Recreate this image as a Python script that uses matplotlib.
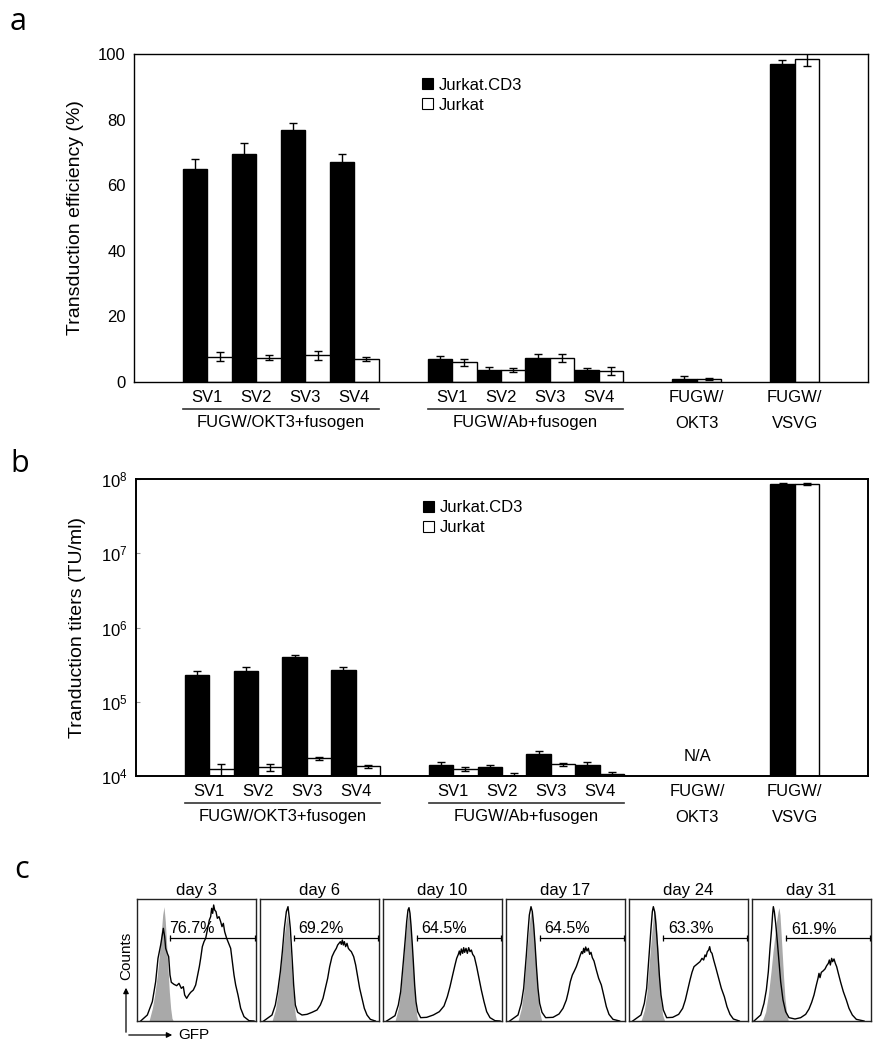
import matplotlib
matplotlib.use('Agg')
import matplotlib.pyplot as plt
import numpy as np
from matplotlib.patches import Patch, FancyArrowPatch
from matplotlib.ticker import NullLocator, FixedLocator

plt.rcParams['font.family'] = ['Liberation Sans', 'DejaVu Sans']
plt.rcParams['mathtext.fontset'] = 'custom'
plt.rcParams['mathtext.rm'] = 'Liberation Sans'
plt.rcParams['mathtext.it'] = 'Liberation Sans:italic'

# ---------------- data ----------------
sv_labels = ['SV1', 'SV2', 'SV3', 'SV4']
group_names = ['FUGW/OKT3+fusogen', 'FUGW/Ab+fusogen']
ctrl_top = ['FUGW/', 'FUGW/']
ctrl_bottom = ['OKT3', 'VSVG']
series_names = ['Jurkat.CD3', 'Jurkat']

# panel a: transduction efficiency (%)
eff_okt3_cd3 = [65.0, 69.6, 76.9, 67.2]
eff_okt3_cd3_err = [3.0, 3.3, 2.2, 2.4]
eff_okt3_jur = [7.7, 7.4, 8.1, 6.9]
eff_okt3_jur_err = [1.4, 0.8, 1.5, 0.6]
eff_ab_cd3 = [6.9, 3.6, 7.4, 3.6]
eff_ab_cd3_err = [1.0, 0.9, 1.0, 0.7]
eff_ab_jur = [6.0, 3.6, 7.2, 3.4]
eff_ab_jur_err = [1.0, 0.7, 1.2, 1.2]
eff_ctrl_cd3 = [0.9, 96.8]
eff_ctrl_cd3_err = [0.8, 1.5]
eff_ctrl_jur = [0.9, 98.4]
eff_ctrl_jur_err = [0.3, 2.0]

# panel b: transduction titers (TU/ml)
tit_okt3_cd3 = [2.3e5, 2.6e5, 4.0e5, 2.7e5]
tit_okt3_cd3_err = [0.3e5, 0.3e5, 0.2e5, 0.2e5]
tit_okt3_jur = [1.24e4, 1.32e4, 1.73e4, 1.35e4]
tit_okt3_jur_err = [0.23e4, 0.14e4, 0.07e4, 0.06e4]
tit_ab_cd3 = [1.42e4, 1.34e4, 2.0e4, 1.41e4]
tit_ab_cd3_err = [0.14e4, 0.08e4, 0.17e4, 0.15e4]
tit_ab_jur = [1.24e4, 1.0e4, 1.44e4, 1.05e4]
tit_ab_jur_err = [0.08e4, 0.09e4, 0.06e4, 0.08e4]
tit_ctrl_cd3 = [np.nan, 8.5e7]
tit_ctrl_cd3_err = [np.nan, 0.4e7]
tit_ctrl_jur = [np.nan, 8.6e7]
tit_ctrl_jur_err = [np.nan, 0.3e7]

# panel c: flow histograms (GFP channel, counts)
days = ['day 3', 'day 6', 'day 10', 'day 17', 'day 24', 'day 31']
pct = ['76.7%', '69.2%', '64.5%', '64.5%', '63.3%', '61.9%']
gate_lo = [98, 101, 101, 101, 103, 103]
gate_hi = [353, 353, 353, 353, 353, 353]
gate_level = [250, 250, 250, 250, 250, 248]

d3_gfp = [11,31,46,56,63,71,79,83,86,91,95,99,103,111,119,126,133,139,143,149,155,161,169,176,181,187,191,196,201,206,211,217,221,224,227,230,233,237,241,246,251,255,259,263,269,275,281,286,291,296,303,311,321,336,351]
d3_cnt = [0,18,58,118,188,228,278,253,218,203,193,138,116,110,106,113,98,103,78,68,78,86,93,108,133,163,188,223,238,248,273,303,313,338,323,348,333,328,308,313,298,283,293,268,248,233,218,178,138,108,78,38,13,1,0]
d3_ctl_gfp = [36,46,53,61,67,73,77,81,85,89,93,97,101,105,109]
d3_ctl_cnt = [0,38,78,138,198,268,318,343,298,228,158,88,38,8,0]

d6_gfp = [11,36,46,53,61,67,73,79,84,88,91,94,97,101,106,113,126,141,156,171,181,189,196,203,209,216,223,229,233,237,241,244,247,250,253,257,261,265,269,274,281,287,293,299,306,313,321,331,346]
d6_cnt = [0,18,48,88,148,208,278,328,343,308,278,228,178,108,48,26,18,20,26,33,48,68,98,128,163,193,208,218,228,233,238,230,243,228,238,223,233,218,213,208,193,168,133,98,68,38,18,5,0]
d6_ctl_gfp = [36,46,53,61,67,73,78,82,86,90,94,98,102,106,110]
d6_ctl_cnt = [0,33,78,148,208,258,298,318,288,228,168,108,58,18,0]

d10_gfp = [11,36,46,53,61,67,71,75,78,81,84,88,91,95,99,104,113,131,151,169,183,193,201,209,216,221,226,229,232,235,239,242,245,249,253,257,261,265,269,274,281,288,295,303,311,321,336,351]
d10_cnt = [0,16,48,88,178,248,298,333,340,323,288,228,178,108,58,28,10,11,18,28,45,73,103,138,168,188,200,210,198,216,203,220,206,218,203,220,208,213,200,193,163,128,93,58,28,10,1,0]
d10_ctl_gfp = [36,46,53,61,67,72,77,81,85,89,93,97,101,106]
d10_ctl_cnt = [0,38,88,178,248,298,328,308,258,188,118,58,18,0]

d17_gfp = [11,36,46,53,61,66,70,75,79,83,87,91,96,101,108,119,141,159,171,181,187,193,199,205,211,217,223,227,230,233,236,239,243,247,251,255,259,264,271,278,286,293,301,309,321,341]
d17_cnt = [0,18,53,98,198,268,318,343,328,288,233,168,98,53,26,10,11,21,38,63,88,118,138,150,163,180,198,208,202,218,206,222,210,218,200,206,190,180,153,128,108,78,43,20,5,0]
d17_ctl_gfp = [36,46,53,61,67,72,76,80,84,88,92,96,101,107]
d17_ctl_cnt = [0,38,88,188,258,308,330,313,268,208,138,78,28,0]

d24_gfp = [11,36,46,53,61,66,70,73,77,81,86,91,96,103,113,131,149,161,169,176,183,189,195,201,207,213,219,224,228,231,235,239,242,245,249,254,261,269,277,286,294,303,313,331]
d24_cnt = [0,18,53,98,208,278,328,343,328,288,218,138,78,33,10,11,20,38,63,93,123,146,163,168,173,178,188,183,198,193,208,213,223,208,203,183,158,128,98,73,43,20,6,0]
d24_ctl_gfp = [36,46,53,61,67,72,76,80,84,88,92,96,101,107]
d24_ctl_cnt = [0,33,78,178,248,303,333,318,258,188,118,58,18,0]

d31_gfp = [6,26,36,43,49,54,59,62,64,67,71,76,81,86,93,101,111,129,146,161,171,179,186,193,198,201,204,208,213,219,224,229,232,235,239,242,246,250,254,259,266,274,283,291,301,313,336]
d31_cnt = [0,18,53,93,148,218,278,323,343,328,293,238,178,118,63,28,10,6,10,20,36,56,78,108,128,143,130,146,150,156,166,173,183,168,188,178,186,173,163,143,116,88,63,38,18,5,0]
d31_ctl_gfp = [31,41,49,57,63,69,74,78,81,84,87,91,95,99,104,109]
d31_ctl_cnt = [0,28,78,148,208,258,303,328,340,318,268,198,128,68,23,0]

samples = [(d3_gfp, d3_cnt), (d6_gfp, d6_cnt), (d10_gfp, d10_cnt),
           (d17_gfp, d17_cnt), (d24_gfp, d24_cnt), (d31_gfp, d31_cnt)]
controls = [(d3_ctl_gfp, d3_ctl_cnt), (d6_ctl_gfp, d6_ctl_cnt), (d10_ctl_gfp, d10_ctl_cnt),
            (d17_ctl_gfp, d17_ctl_cnt), (d24_ctl_gfp, d24_ctl_cnt), (d31_ctl_gfp, d31_ctl_cnt)]

# ---------------- layout ----------------
W, H = 885, 1050
fig = plt.figure(figsize=(W / 100, H / 100), dpi=100)


def px_axes(l, t, r, b):
    return fig.add_axes([l / W, 1 - b / H, (r - l) / W, (b - t) / H])


group_starts = [2, 12]
ctrl_starts = [22, 26]
FS = 12
err_kw = dict(ecolor='black', elinewidth=1, capsize=3, capthick=1)


def draw_bars(ax, groups, ctrl, ax_h):
    for gs, (c, ce, j, je) in zip(group_starts, groups):
        xs = gs + 2 * np.arange(len(sv_labels))
        ax.bar(xs + 0.5, c, width=1, color='black', edgecolor='black', lw=1,
               yerr=ce, error_kw=err_kw, zorder=2)
        ax.bar(xs + 1.5, j, width=1, color='white', edgecolor='black', lw=1,
               yerr=je, error_kw=err_kw, zorder=2)
    c, ce, j, je = ctrl
    for k, xs in enumerate(ctrl_starts):
        if np.isfinite(c[k]):
            ax.bar(xs + 0.5, c[k], width=1, color='black', edgecolor='black', lw=1,
                   yerr=ce[k], error_kw=err_kw, zorder=2)
        if np.isfinite(j[k]):
            ax.bar(xs + 1.5, j[k], width=1, color='white', edgecolor='black', lw=1,
                   yerr=je[k], error_kw=err_kw, zorder=2)
    ax.set_xlim(0, 30)
    ax.set_xticks([])
    tr = ax.get_xaxis_transform()
    for gi, gs in enumerate(group_starts):
        for k, lab in enumerate(sv_labels):
            ax.annotate(lab, xy=(gs + 2 * k + 1, 0), xycoords=tr, xytext=(0, -16),
                        textcoords='offset pixels', ha='center', va='center', fontsize=FS)
        yl = -27 / ax_h
        ax.plot([gs, gs + 8], [yl, yl], transform=tr, clip_on=False, color='#333333', lw=1.2)
        ax.annotate(group_names[gi], xy=(gs + 4, 0), xycoords=tr, xytext=(0, -41),
                    textcoords='offset pixels', ha='center', va='center', fontsize=FS)
    for k, cs in enumerate(ctrl_starts):
        ax.annotate(ctrl_top[k], xy=(cs + 1, 0), xycoords=tr, xytext=(0, -16),
                    textcoords='offset pixels', ha='center', va='center', fontsize=FS)
        ax.annotate(ctrl_bottom[k], xy=(cs + 1, 0), xycoords=tr, xytext=(0, -41),
                    textcoords='offset pixels', ha='center', va='center', fontsize=FS)
    handles = [Patch(facecolor='black', edgecolor='black', lw=0.8),
               Patch(facecolor='white', edgecolor='black', lw=0.8)]
    ax.legend(handles, series_names, loc='upper left', bbox_to_anchor=(0.392, 0.928),
              frameon=False, fontsize=FS, borderpad=0, borderaxespad=0,
              handlelength=0.65, handleheight=0.65, handletextpad=0.35, labelspacing=0.3)


# panel a
axA = px_axes(134, 54, 868, 382)
axA.set_ylim(0, 100)
axA.set_yticks([0, 20, 40, 60, 80, 100])
axA.tick_params(axis='y', length=0, pad=6, labelsize=FS)
for s in axA.spines.values():
    s.set_linewidth(1.0)
draw_bars(axA,
          [(eff_okt3_cd3, eff_okt3_cd3_err, eff_okt3_jur, eff_okt3_jur_err),
           (eff_ab_cd3, eff_ab_cd3_err, eff_ab_jur, eff_ab_jur_err)],
          (eff_ctrl_cd3, eff_ctrl_cd3_err, eff_ctrl_jur, eff_ctrl_jur_err), 328)
axA.set_ylabel('Transduction efficiency (%)', fontsize=14)
axA.yaxis.set_label_coords(-0.068, 0.5)

# panel b
axB = px_axes(136, 479, 868, 776)
axB.set_yscale('log')
axB.set_ylim(1e4, 1e8)
axB.yaxis.set_major_locator(FixedLocator([1e4, 1e5, 1e6, 1e7, 1e8]))
axB.yaxis.set_minor_locator(NullLocator())
axB.tick_params(axis='y', direction='in', length=3, color='#999999', pad=6, labelsize=FS)
for s in axB.spines.values():
    s.set_linewidth(1.4)
draw_bars(axB,
          [(tit_okt3_cd3, tit_okt3_cd3_err, tit_okt3_jur, tit_okt3_jur_err),
           (tit_ab_cd3, tit_ab_cd3_err, tit_ab_jur, tit_ab_jur_err)],
          (tit_ctrl_cd3, tit_ctrl_cd3_err, tit_ctrl_jur, tit_ctrl_jur_err), 297)
axB.set_ylim(1e4, 1e8)
axB.set_ylabel('Tranduction titers (TU/ml)', fontsize=14)
axB.yaxis.set_label_coords(-0.068, 0.5)
axB.text(ctrl_starts[0] + 1, 0.067, 'N/A', transform=axB.get_xaxis_transform(),
         ha='center', va='center', fontsize=FS)

# panel c
for i in range(6):
    left = 137 + 123 * i
    ax = px_axes(left, 899, left + 119, 1021)
    cg, cc = controls[i]
    sg, sc = samples[i]
    ax.fill_between(cg, cc, 0, color='#a9a9a9', lw=0, zorder=1)
    ax.plot(sg, sc, color='black', lw=1.0, zorder=2)
    ax.plot([gate_lo[i], gate_hi[i]], [gate_level[i], gate_level[i]], color='black', lw=0.9,
            marker='|', markersize=5, markeredgewidth=0.9, zorder=3)
    tx = gate_lo[i] - 2 if i == 0 else gate_lo[i] + 14
    ax.text(tx, gate_level[i] + 28, pct[i], fontsize=11.5, ha='left', va='center', zorder=4)
    ax.set_xlim(0, 357)
    ax.set_ylim(0, 366)
    ax.set_xticks([])
    ax.set_yticks([])
    for s in ax.spines.values():
        s.set_linewidth(1.0)
        s.set_color('#222222')
    ax.set_title(days[i], fontsize=12, pad=3)

# axis arrows for flow panels
x0, y0 = 126 / W, 1 - 1035 / H
fig.add_artist(FancyArrowPatch((x0, y0), (x0, 1 - 985 / H), transform=fig.transFigure,
                               arrowstyle='-|>', mutation_scale=8, lw=0.9, color='black'))
fig.add_artist(FancyArrowPatch((x0, y0), (175 / W, y0), transform=fig.transFigure,
                               arrowstyle='-|>', mutation_scale=8, lw=0.9, color='black'))
fig.text(x0, 1 - 956 / H, 'Counts', rotation=90, ha='center', va='center', fontsize=11)
fig.text(178 / W, y0, 'GFP', ha='left', va='center', fontsize=11)

# panel letters
for lab, (lx, ly) in zip(['a', 'b', 'c'], [(10, 30), (10, 472), (14, 878)]):
    fig.text(lx / W, 1 - ly / H, lab, fontsize=22, family=['Open Sans', 'DejaVu Sans'],
             ha='left', va='baseline')

fig.savefig('out.png', dpi=100)
